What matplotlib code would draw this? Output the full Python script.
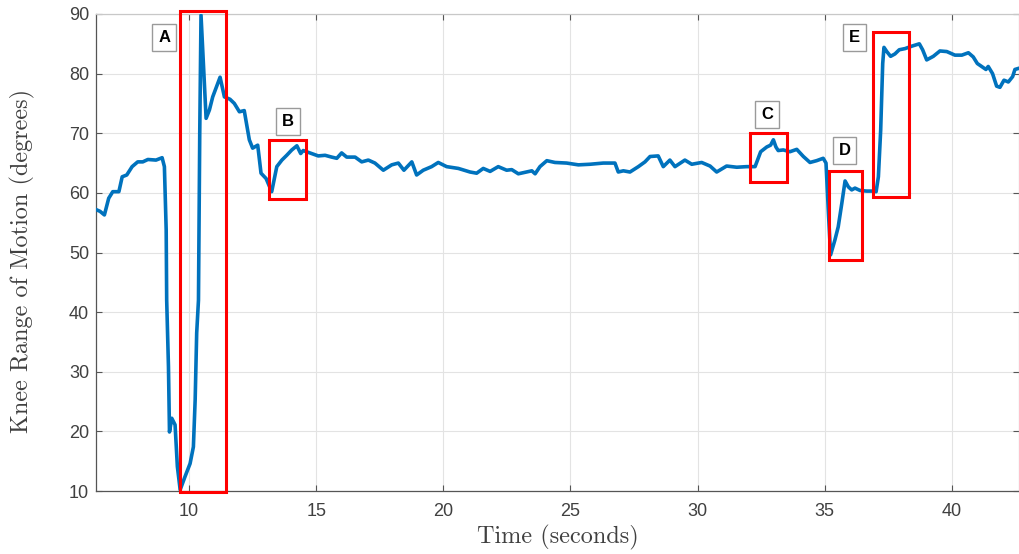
"""Knee range of motion trace with annotated events A-E."""
import matplotlib
matplotlib.use("Agg")
import matplotlib.pyplot as plt
from matplotlib.patches import Rectangle

# knee angle trace (seconds, degrees)
time_s = [
    6.34, 6.50, 6.67, 6.84, 7.00, 7.24, 7.37, 7.55, 7.76, 7.98, 8.18, 8.38, 8.70, 8.94, 9.03,
    9.10, 9.12, 9.19, 9.23, 9.32, 9.45, 9.54, 9.65, 9.84, 10.04, 10.17, 10.24, 10.30, 10.37,
    10.42, 10.47, 10.67, 10.80, 10.93, 11.22, 11.39, 11.61, 11.78, 11.98, 12.17, 12.37, 12.50,
    12.70, 12.83, 13.03, 13.25, 13.45, 13.65, 13.84, 14.04, 14.24, 14.39, 14.49, 14.82, 15.08,
    15.35, 15.61, 15.81, 16.00, 16.20, 16.53, 16.79, 17.05, 17.31, 17.64, 17.97, 18.23, 18.45,
    18.76, 18.95, 19.21, 19.54, 19.80, 20.13, 20.59, 21.05, 21.31, 21.57, 21.84, 22.16, 22.49,
    22.69, 22.95, 23.28, 23.48, 23.61, 23.80, 24.07, 24.39, 24.85, 25.31, 25.77, 26.29, 26.75,
    26.88, 27.08, 27.34, 27.67, 27.93, 28.13, 28.45, 28.65, 28.91, 29.11, 29.50, 29.77, 30.16,
    30.49, 30.75, 31.14, 31.54, 31.93, 32.26, 32.48, 32.72, 32.87, 32.98, 33.08, 33.17, 33.37,
    33.63, 33.90, 34.16, 34.42, 34.68, 34.94, 35.05, 35.14, 35.23, 35.40, 35.53, 35.67, 35.80,
    35.93, 36.06, 36.19, 36.39, 36.65, 36.91, 37.02, 37.11, 37.20, 37.28, 37.33, 37.44, 37.59,
    37.76, 37.93, 38.16, 38.42, 38.72, 38.85, 39.01, 39.27, 39.53, 39.80, 40.12, 40.39, 40.65,
    40.84, 41.00, 41.17, 41.34, 41.43, 41.60, 41.76, 41.89, 42.05, 42.22, 42.39, 42.48, 42.64,
]
knee_deg = [
    57.2, 56.9, 56.3, 59.1, 60.2, 60.2, 62.7, 63.0, 64.4, 65.2, 65.2, 65.6, 65.5, 65.9, 64.4,
    53.8, 42.0, 30.8, 19.9, 22.2, 21.1, 14.1, 10.2, 12.4, 14.6, 17.4, 25.3, 36.5, 42.0,
    70.0, 89.8, 72.5, 73.9, 76.1, 79.4, 76.1, 75.7, 75.0, 73.6, 73.8, 68.9, 67.5,
    68.0, 63.3, 62.4, 60.2, 64.4, 65.5, 66.3, 67.2, 67.9, 66.6, 67.1, 66.6, 66.2,
    66.3, 66.0, 65.8, 66.7, 66.0, 66.0, 65.2, 65.5, 65.0, 63.8, 64.7, 65.0, 63.8,
    65.2, 63.0, 63.8, 64.4, 65.1, 64.4, 64.1, 63.5, 63.3, 64.1, 63.6, 64.4, 63.8,
    63.9, 63.2, 63.5, 63.7, 63.2, 64.4, 65.4, 65.1, 65.0, 64.7, 64.8, 65.0, 65.0,
    63.5, 63.7, 63.5, 64.4, 65.2, 66.1, 66.2, 64.4, 65.5, 64.4, 65.5, 64.8, 65.1,
    64.5, 63.5, 64.5, 64.3, 64.4, 64.4, 66.9, 67.7, 68.0, 68.9, 67.7, 67.1, 67.2,
    66.9, 67.3, 66.1, 65.1, 65.4, 65.8, 65.0, 57.1, 49.6, 52.1, 54.3, 58.2, 62.0,
    61.0, 60.5, 60.8, 60.4, 60.3, 60.3, 60.2, 62.7, 70.5, 81.7, 84.4, 83.7, 82.9,
    83.3, 84.0, 84.2, 84.6, 85.0, 84.0, 82.3, 82.9, 83.8, 83.7, 83.1, 83.1, 83.5,
    82.8, 81.7, 81.2, 80.7, 81.2, 80.0, 77.9, 77.7, 78.9, 78.6, 79.5, 80.7, 80.9,
]

# highlighted event windows
event_names = ["A", "B", "C", "D", "E"]
event_t0 = [9.65, 13.16, 32.06, 35.18, 36.91]
event_t1 = [11.45, 14.60, 33.50, 36.45, 38.31]
event_lo = [9.9, 58.9, 61.9, 48.7, 59.3]
event_hi = [90.5, 68.9, 70.1, 63.7, 86.9]
label_t = [9.02, 13.88, 32.73, 35.78, 36.18]
label_y = [86.1, 72.0, 73.2, 67.1, 86.1]

x_ticks = [10, 15, 20, 25, 30, 35, 40]
y_ticks = [10, 20, 30, 40, 50, 60, 70, 80, 90]

fig = plt.figure(figsize=(10.19, 5.54), dpi=100)
ax = fig.add_axes([96 / 1019, 63 / 554, 923 / 1019, 477 / 554])

ax.plot(time_s, knee_deg, color="#0072BD", linewidth=2.6, zorder=3,
        solid_joinstyle="round")

for t0, t1, lo, hi in zip(event_t0, event_t1, event_lo, event_hi):
    ax.add_patch(Rectangle((t0, lo), t1 - t0, hi - lo, fill=False,
                           edgecolor="#FF0000", linewidth=2.2, zorder=4, clip_on=False))

for name, t, y in zip(event_names, label_t, label_y):
    ax.text(t, y, name, ha="center", va="center", fontsize=12, fontweight="bold",
            family="Liberation Sans", color="black", zorder=5,
            bbox=dict(boxstyle="square,pad=0.35", facecolor="white", edgecolor="#9a9a9a", linewidth=1))

ax.set_xlim(6.34, 42.64)
ax.set_ylim(10, 90)
ax.set_xticks(x_ticks)
ax.set_yticks(y_ticks)
ax.grid(True, color="#e3e3e3", linewidth=0.8)
ax.set_axisbelow(True)
ax.tick_params(direction="in", length=4, top=True, right=True, colors="#555555",
               labelsize=13, labelcolor="#404040")
ax.tick_params(axis="x", pad=9)
ax.tick_params(axis="y", pad=5)
for lab in ax.get_xticklabels() + ax.get_yticklabels():
    lab.set_family("Liberation Sans")
for side, col in [("left", "#555555"), ("bottom", "#555555"), ("top", "#c8c8c8"), ("right", "#c8c8c8")]:
    ax.spines[side].set_color(col)
    ax.spines[side].set_linewidth(0.9)

ax.set_xlabel("Time (seconds)", fontname="cmr10", fontsize=17.5, color="#404040", labelpad=3)
ax.set_ylabel("Knee Range of Motion (degrees)", fontname="cmr10", fontsize=17.5, color="#404040")
ax.yaxis.set_label_coords(-0.066, 0.483)

fig.savefig("out.png", dpi=100)
